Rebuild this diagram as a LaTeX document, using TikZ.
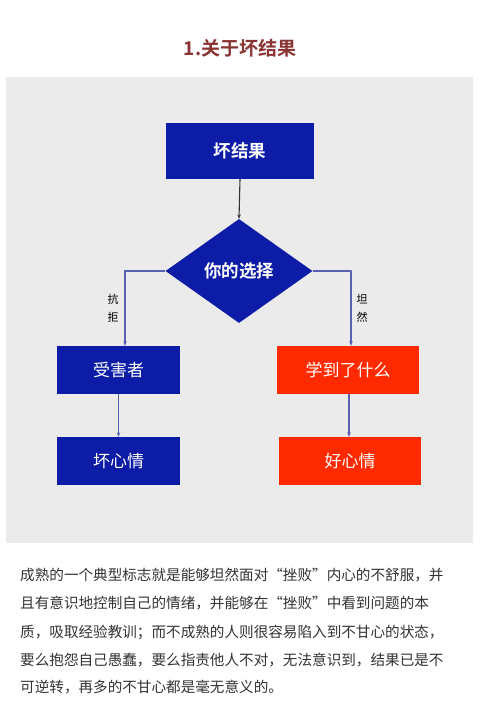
\documentclass[tikz,border=0pt]{standalone}
\usepackage{fontspec}
\setmainfont{Noto Sans CJK SC}
\newfontfamily\cjkb{Noto Sans CJK SC Bold}
\usetikzlibrary{shapes.geometric,arrows.meta,calc}
\definecolor{bgray}{HTML}{EBEBEB}
\definecolor{dblue}{HTML}{0C1CA6}
\definecolor{dred}{HTML}{FF2A00}
\definecolor{lineblue}{HTML}{5A60B4}
\definecolor{titlered}{HTML}{8A3434}
\definecolor{txt}{HTML}{333333}
\begin{document}
\begin{tikzpicture}[x=1pt,y=-1pt,
  bluebox/.style={fill=dblue,text=white,inner sep=0pt},
  redbox/.style={fill=dred,text=white,inner sep=0pt},
  conn/.style={draw=lineblue,line width=1.2pt,-{Stealth[length=4.5pt,width=3.5pt]}},
  para/.style={anchor=west,inner sep=0pt,text=txt,font=\fontsize{14.6}{16}\selectfont},
  side/.style={inner sep=0pt,text=black,font=\fontsize{11}{12}\selectfont}]
\useasboundingbox (0,0) rectangle (480,724);
\fill[white] (0,0) rectangle (480,724);
\fill[bgray] (6,77) rectangle (473,543);
\node[text=titlered,inner sep=0pt,font=\cjkb\fontsize{19}{21}\selectfont] (title) at (240,48) {1.关于坏结果};
\node[bluebox,minimum width=148pt,minimum height=56pt,font=\cjkb\fontsize{17.5}{19}\selectfont] (bad) at (240,151) {坏结果};
\node[diamond,fill=dblue,text=white,inner sep=0pt,minimum width=147pt,minimum height=104pt,font=\cjkb\fontsize{17.5}{19}\selectfont] (dia) at (239,271) {你的选择};
\node[bluebox,minimum width=123pt,minimum height=48pt,font=\fontsize{17}{19}\selectfont] (vic) at (118.5,370) {受害者};
\node[bluebox,minimum width=123pt,minimum height=48pt,font=\fontsize{17}{19}\selectfont] (badm) at (118.5,461) {坏心情};
\node[redbox,minimum width=142pt,minimum height=48pt,font=\fontsize{17}{19}\selectfont] (learn) at (348,370) {学到了什么};
\node[redbox,minimum width=142pt,minimum height=48pt,font=\fontsize{17}{19}\selectfont] (good) at (350,461) {好心情};
\draw[draw=txt,line width=1.1pt,-{Stealth[length=4.5pt,width=3.5pt]}] (bad.south) -- (dia.north);
\draw[conn] (dia.west) -- ++(-40,0) -| ([xshift=6.5pt]vic.north);
\draw[conn] (dia.east) -- ++(39,0) -| ([xshift=3pt]learn.north);
\draw[conn] (vic.south) -- (badm.north);
\draw[conn] ([xshift=1pt]learn.south) -- ([xshift=-1pt]good.north);
\node[side] (k1) at (113,299) {抗};
\node[side] (k2) at (113,317) {拒};
\node[side] (t1) at (362,299) {坦};
\node[side] (t2) at (362,317) {然};
\node[para] (p1) at (20,575) {成熟的一个典型标志就是能够坦然面对“挫败”内心的不舒服，并};
\node[para] (p2) at (20,603) {且有意识地控制自己的情绪，并能够在“挫败”中看到问题的本};
\node[para] (p3) at (20,632) {质，吸取经验教训；而不成熟的人则很容易陷入到不甘心的状态，};
\node[para] (p4) at (20,660) {要么抱怨自己愚蠢，要么指责他人不对，无法意识到，结果已是不};
\node[para] (p5) at (20,687) {可逆转，再多的不甘心都是毫无意义的。};
\end{tikzpicture}
\end{document}
